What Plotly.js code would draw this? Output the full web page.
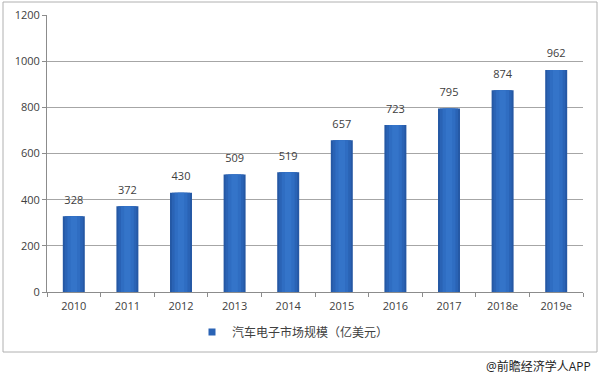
<!DOCTYPE html>
<html><head><meta charset="utf-8">
<script src="https://cdn.plot.ly/plotly-3.0.1.min.js"></script>
<style>html,body{margin:0;padding:0;background:#fff;}#chart{width:600px;height:378px;}</style>
</head><body><div id="chart"></div>
<script>
const years = ['2010','2011','2012','2013','2014','2015','2016','2017','2018e','2019e'];
const marketSize = [328,372,430,509,519,657,723,795,874,962];
const seriesName = '汽车电子市场规模（亿美元）';
const footer = '@前瞻经济学人APP';

const fontFam = '"Open Sans", "Noto Sans CJK SC", sans-serif';
const layers = [
  {w:0.41, c:'#2558a4'},
  {w:0.34, c:'#2a63b5'},
  {w:0.24, c:'#2f6dc2'},
  {w:0.12, c:'#3474c9'}
];
const traces = layers.map(l=>({
  type:'bar', x:years, y:marketSize, width:l.w,
  marker:{color:l.c, line:{width:0}},
  name: seriesName, showlegend:false, hoverinfo:'skip'
}));
traces.push({
  type:'scatter', mode:'markers+text', x:years, y:marketSize,
  marker:{size:14, opacity:0},
  text: marketSize.map(String), textposition:'top center',
  textfont:{size:11, color:'#404040', family:fontFam},
  showlegend:false, hoverinfo:'skip', cliponaxis:false
});
traces.push({
  type:'scatter', mode:'markers', x:[null], y:[null], name:seriesName,
  marker:{symbol:'square', size:7, color:'#2a63b5'}, showlegend:true
});

const W=536, H=277, L=47, B=292;
const px = x => (x-L)/W, py = y => (B-y)/H;

const layout = {
  width:600, height:378,
  margin:{l:47, r:17, t:15, b:86},
  paper_bgcolor:'#fff', plot_bgcolor:'#fff',
  barmode:'overlay',
  font:{family:fontFam, size:11, color:'#404040'},
  xaxis:{type:'category', range:[-0.5, years.length-0.5], autorange:false,
    showgrid:false, showline:true, linecolor:'#8c8c8c', linewidth:1,
    ticks:'outside', ticklen:4, tickcolor:'#8c8c8c', tickson:'boundaries', ticklabelstandoff:4,
    tickfont:{size:11, color:'#404040'}, fixedrange:true},
  yaxis:{range:[0,1200], dtick:200, showgrid:true, gridcolor:'#a6a6a6', gridwidth:1,
    showline:true, linecolor:'#8c8c8c', ticks:'outside', ticklen:4, tickcolor:'#8c8c8c',
    zeroline:false, tickfont:{size:11, color:'#404040'}, fixedrange:true},
  showlegend:true,
  legend:{orientation:'h', x:px(192), xanchor:'left', y:py(332), yanchor:'middle',
    font:{size:12, color:'#404040'}, itemwidth:30, bgcolor:'rgba(0,0,0,0)'},
  shapes:[{type:'rect', xref:'paper', yref:'paper', x0:px(3), x1:px(597), y0:py(352), y1:py(2),
    line:{color:'#b0b0b0', width:1}, fillcolor:'rgba(0,0,0,0)', layer:'below'}],
  annotations:[{xref:'paper', yref:'paper', x:px(593), y:py(366), xanchor:'right', yanchor:'middle',
    text:footer, showarrow:false, font:{size:12, color:'#222'}}]
};
Plotly.newPlot('chart', traces, layout, {displayModeBar:false, staticPlot:true});
</script></body></html>
